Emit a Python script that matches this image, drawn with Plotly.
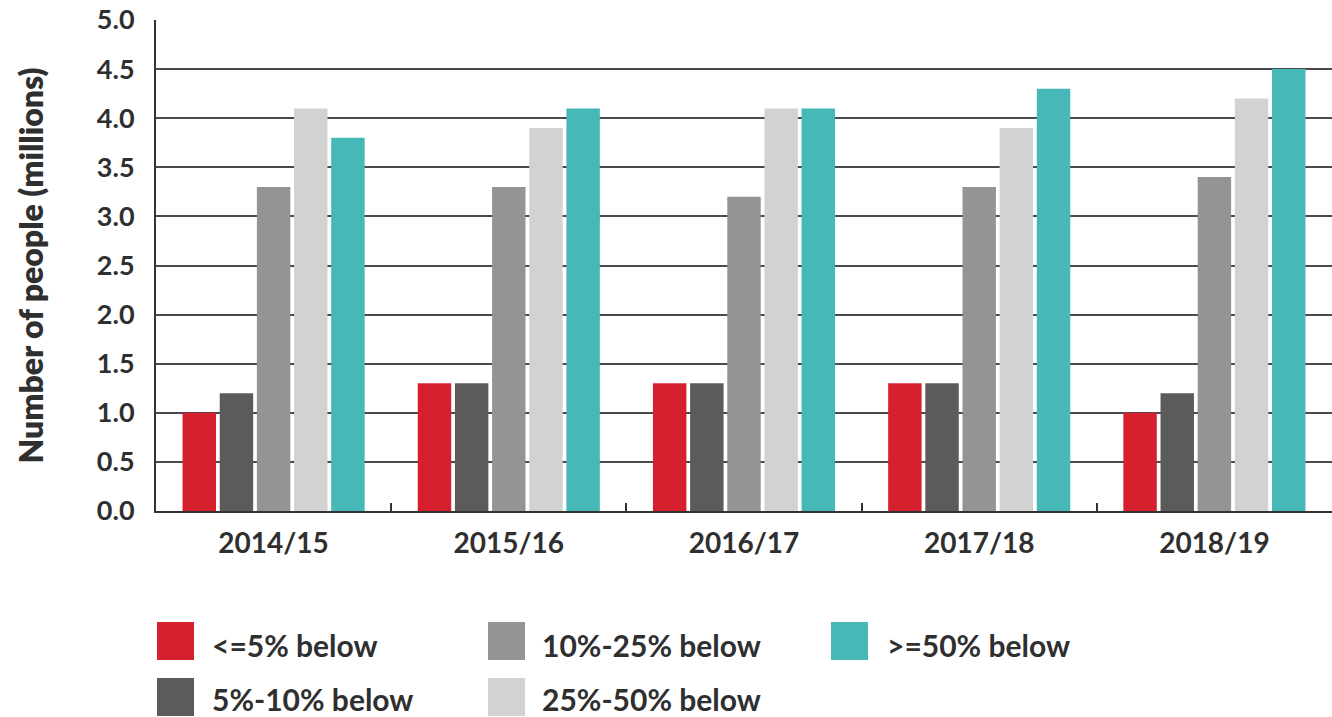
import plotly.graph_objects as go

years = ["2014/15", "2015/16", "2016/17", "2017/18", "2018/19"]
series_names = ["<=5% below", "5%-10% below", "10%-25% below", "25%-50% below", ">=50% below"]
le5 = [1.0, 1.3, 1.3, 1.3, 1.0]
p5_10 = [1.2, 1.3, 1.3, 1.3, 1.2]
p10_25 = [3.3, 3.3, 3.2, 3.3, 3.4]
p25_50 = [4.1, 3.9, 4.1, 3.9, 4.2]
ge50 = [3.8, 4.1, 4.1, 4.3, 4.5]
colors = ["#D7202E", "#5B5C59", "#939493", "#D1D2D1", "#45B8B7"]
y_ticks = [0, 0.5, 1.0, 1.5, 2.0, 2.5, 3.0, 3.5, 4.0, 4.5, 5.0]

FONT = "Lato"
TXT = "#2f2f2f"

fig = go.Figure()
for name, vals, col in zip(series_names, [le5, p5_10, p10_25, p25_50, ge50], colors):
    fig.add_trace(go.Bar(x=years, y=vals, name=name, marker=dict(color=col, line=dict(width=0)),
                         showlegend=False, hoverinfo="skip"))

W, H = 1332, 717
pl, pr, pt, pb = 156, 0, 20, 206
pw, ph = W - pl - pr, H - pt - pb

def px_x(x):
    return (x - pl) / pw

def px_y(y):
    return (H - pb - y) / ph

legend_items = [
    (0, 157, 622, 210, 645),
    (1, 157, 678, 210, 699),
    (2, 488, 622, 540, 645),
    (3, 488, 678, 540, 699),
    (4, 831, 622, 885, 645),
]
for idx, sx, sy, tx, ty in legend_items:
    fig.add_shape(type="rect", xref="paper", yref="paper",
                  x0=px_x(sx), x1=px_x(sx + 37), y0=px_y(sy + 38), y1=px_y(sy),
                  fillcolor=colors[idx], line=dict(width=0))
    fig.add_annotation(xref="paper", yref="paper", x=px_x(tx), y=px_y(ty),
                       xanchor="left", yanchor="middle", showarrow=False,
                       text=series_names[idx],
                       font=dict(family=FONT, size=30, color=TXT, weight=700))

fig.update_layout(
    width=W, height=H,
    margin=dict(l=pl, r=pr, t=pt, b=pb, pad=0),
    paper_bgcolor="white", plot_bgcolor="white",
    barmode="group", bargap=0.21, bargroupgap=0.1,
    font=dict(family=FONT, color=TXT),
    xaxis=dict(
        type="category", tickson="boundaries", ticks="inside", ticklen=8,
        tickwidth=2, tickcolor="#333",
        showline=True, linecolor="#333", linewidth=2,
        tickfont=dict(family=FONT, size=28, color=TXT, weight=700),
        ticklabelstandoff=6,
        showgrid=False,
    ),
    yaxis=dict(
        range=[0, 5], tickvals=y_ticks, tickformat=".1f",
        showgrid=True, gridcolor="#4a4a4a", gridwidth=1.5,
        showline=True, linecolor="#333", linewidth=2,
        ticks="", ticklabelstandoff=14, ticklabeloverflow="allow",
        tickfont=dict(family=FONT, size=27, color=TXT, weight=700),
        title=dict(text="Number of people (millions)", standoff=44,
                   font=dict(family=FONT, size=32, color=TXT, weight=800)),
        zeroline=False,
    ),
)

fig.write_html("out.html", config={"displayModeBar": False},
               post_script="document.body.style.margin='0';document.body.style.overflow='hidden';")
